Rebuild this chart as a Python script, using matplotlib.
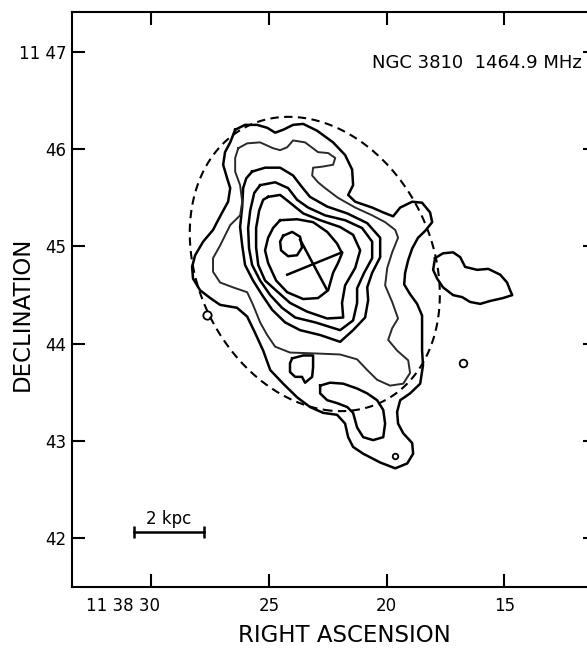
import numpy as np
import matplotlib.pyplot as plt
from matplotlib.transforms import ScaledTranslation

# positions: RA in seconds of 11h 38m, Dec in arcmin of +11 deg
contour1 = [(26.43, 46.20), (26.01, 46.25), (25.50, 46.25), (25.07, 46.22), (24.73, 46.17),
            (24.39, 46.20), (23.97, 46.25), (23.54, 46.26), (22.95, 46.19), (22.27, 46.07),
            (21.76, 45.94), (21.46, 45.79), (21.42, 45.63), (21.63, 45.53), (21.33, 45.46),
            (20.61, 45.40), (20.14, 45.35), (19.72, 45.31), (19.42, 45.40), (18.91, 45.46),
            (18.49, 45.45), (18.15, 45.35), (18.06, 45.25), (18.36, 45.16), (18.66, 45.09),
            (18.91, 44.98), (19.08, 44.86), (19.21, 44.73), (19.25, 44.61), (19.00, 44.51),
            (18.70, 44.41), (18.49, 44.29), (18.49, 44.12), (18.49, 43.93), (18.45, 43.78),
            (18.57, 43.59), (19.00, 43.49), (19.42, 43.42), (19.55, 43.30), (19.51, 43.18),
            (19.29, 43.08), (18.91, 42.98), (18.87, 42.87), (19.12, 42.77), (19.63, 42.72),
            (20.27, 42.78), (20.99, 42.87), (21.42, 42.94), (21.63, 43.04), (21.76, 43.18),
            (22.10, 43.27), (22.69, 43.29), (23.25, 43.35), (23.80, 43.45), (24.39, 43.59),
            (24.94, 43.73), (25.24, 43.93), (25.58, 44.11), (25.92, 44.28), (26.35, 44.37),
            (27.07, 44.40), (27.49, 44.47), (27.92, 44.55), (28.22, 44.67), (28.26, 44.79),
            (28.13, 44.91), (27.79, 45.05), (27.37, 45.17), (27.20, 45.25), (26.98, 45.35),
            (26.73, 45.46), (26.64, 45.60), (26.77, 45.70), (26.94, 45.84), (26.86, 45.97),
            (26.64, 46.07)]

contour2 = [(26.30, 46.01), (26.43, 45.91), (26.43, 45.77), (26.22, 45.63), (26.13, 45.46),
            (26.22, 45.32), (26.64, 45.22), (27.07, 45.01), (27.37, 44.88), (27.37, 44.74),
            (27.07, 44.63), (26.52, 44.58), (25.92, 44.53), (25.67, 44.40), (25.37, 44.22),
            (25.07, 44.09), (24.73, 43.97), (24.10, 43.91), (22.95, 43.90), (21.97, 43.89),
            (21.25, 43.84), (20.82, 43.73), (20.40, 43.63), (19.85, 43.57), (19.29, 43.59),
            (19.00, 43.70), (19.08, 43.83), (19.55, 43.93), (19.93, 44.04), (19.76, 44.16),
            (19.51, 44.26), (19.76, 44.43), (20.06, 44.60), (19.97, 44.78), (19.76, 44.94),
            (19.51, 45.09), (19.63, 45.17), (20.06, 45.25), (20.61, 45.32), (21.33, 45.40),
            (22.06, 45.50), (22.61, 45.60), (22.91, 45.66), (23.16, 45.73), (23.12, 45.81),
            (22.74, 45.82), (22.27, 45.84), (22.18, 45.91), (22.48, 45.96), (22.91, 45.97),
            (23.46, 46.07), (23.97, 46.09), (24.22, 46.02), (24.52, 45.99), (24.82, 46.01),
            (25.37, 46.07), (25.92, 46.06)]

contour3 = [(25.71, 45.77), (25.16, 45.81), (24.52, 45.81), (23.97, 45.73), (23.59, 45.61),
            (23.25, 45.51), (22.52, 45.41), (21.67, 45.34), (20.82, 45.24), (20.27, 45.09),
            (20.27, 44.89), (20.61, 44.73), (20.82, 44.58), (20.78, 44.45), (20.91, 44.27),
            (21.42, 44.14), (21.97, 44.02), (22.82, 44.09), (23.67, 44.14), (24.31, 44.22),
            (24.86, 44.35), (25.28, 44.50), (25.67, 44.65), (26.01, 44.81), (26.13, 45.01),
            (26.22, 45.20), (26.13, 45.41), (26.09, 45.60), (25.96, 45.70)]

contour4 = [(25.37, 45.63), (24.73, 45.66), (24.18, 45.60), (23.80, 45.48), (23.33, 45.40),
            (22.61, 45.32), (21.76, 45.27), (21.04, 45.19), (20.61, 45.05), (20.61, 44.88),
            (20.95, 44.73), (21.25, 44.57), (21.25, 44.42), (21.42, 44.24), (21.97, 44.14),
            (23.03, 44.22), (23.88, 44.27), (24.44, 44.37), (24.94, 44.50), (25.37, 44.65),
            (25.71, 44.81), (25.84, 44.98), (25.88, 45.19), (25.79, 45.37), (25.62, 45.55)]

contour5 = [(25.03, 45.51), (24.52, 45.53), (24.10, 45.45), (23.54, 45.34), (22.82, 45.27),
            (21.97, 45.20), (21.42, 45.12), (21.12, 44.96), (21.33, 44.78), (21.76, 44.60),
            (21.89, 44.42), (21.84, 44.27), (22.52, 44.26), (23.37, 44.33), (24.10, 44.42),
            (24.61, 44.53), (25.16, 44.65), (25.45, 44.81), (25.54, 44.99), (25.54, 45.19),
            (25.41, 45.37), (25.24, 45.48)]

contour6 = [(24.52, 45.27), (23.80, 45.28), (23.12, 45.25), (22.52, 45.15), (22.10, 45.03),
            (21.89, 44.93), (22.06, 44.83), (22.27, 44.73), (22.48, 44.55), (22.91, 44.47),
            (23.54, 44.46), (24.22, 44.53), (24.69, 44.65), (25.03, 44.83), (25.16, 44.96),
            (25.03, 45.09), (24.82, 45.19)]

contour7 = [(24.39, 45.11), (24.01, 45.15), (23.67, 45.10), (23.59, 44.99), (23.80, 44.91),
            (24.18, 44.90), (24.48, 44.96), (24.52, 45.05)]

island_a = [(24.01, 43.85), (23.54, 43.88), (23.12, 43.88), (23.12, 43.76), (23.16, 43.66),
            (23.46, 43.60), (23.59, 43.66), (23.88, 43.66), (24.10, 43.71), (24.10, 43.80)]

island_b = [(22.82, 43.57), (22.40, 43.60), (21.84, 43.59), (21.25, 43.54), (20.82, 43.49),
            (20.40, 43.42), (20.14, 43.32), (20.06, 43.18), (20.14, 43.04), (20.57, 43.01),
            (20.99, 43.04), (21.25, 43.14), (21.42, 43.29), (21.67, 43.35), (22.10, 43.39),
            (22.52, 43.42), (22.82, 43.49)]

west_blob = [(17.94, 44.88), (17.60, 44.93), (17.17, 44.94), (16.87, 44.89), (16.66, 44.79),
             (16.15, 44.76), (15.68, 44.77), (15.17, 44.71), (14.88, 44.63), (14.75, 44.55),
             (14.66, 44.50), (15.05, 44.47), (15.60, 44.44), (16.02, 44.41), (16.45, 44.43),
             (16.79, 44.48), (17.17, 44.50), (17.60, 44.58), (17.85, 44.67), (18.02, 44.76)]

# tiny closed contours: (ra, dec, marker size)
small_sources = [(16.75, 43.80, 5.5), (19.63, 42.85, 4.0), (27.62, 44.30, 6.0)]

# optical disk outline (dashed)
disk_outline = [(23.67, 46.33), (22.06, 46.22), (20.91, 46.06), (20.06, 45.86), (19.34, 45.63),
                (18.91, 45.48), (18.49, 45.32), (18.23, 45.14), (17.98, 44.95), (17.85, 44.76),
                (17.72, 44.55), (17.72, 44.31), (18.02, 44.07), (18.28, 43.86), (18.57, 43.76),
                (19.42, 43.52), (20.27, 43.37), (21.12, 43.32), (22.10, 43.32), (22.95, 43.35),
                (23.80, 43.42), (24.94, 43.59), (25.92, 43.76), (26.77, 43.97), (27.49, 44.21),
                (27.79, 44.33), (28.00, 44.57), (28.22, 44.81), (28.26, 45.01), (28.26, 45.22),
                (28.22, 45.43), (27.92, 45.66), (27.35, 45.92), (26.64, 46.12), (25.67, 46.30),
                (24.39, 46.33)]

# optical nucleus cross
cross_a = [(24.22, 44.71), (21.89, 44.94)]
cross_b = [(23.67, 45.07), (22.52, 44.55)]

# 2 kpc scale bar
scale_bar = [(30.72, 42.07), (27.75, 42.07)]

xtick_vals = [30, 25, 20, 15]
xtick_labels = ['11 38 30', '25', '20', '15']
ytick_vals = [47, 46, 45, 44, 43, 42]
ytick_labels = ['11 47', '46', '45', '44', '43', '42']

plt.rcParams['font.family'] = 'DejaVu Sans'

fig = plt.figure(figsize=(5.87, 6.49), dpi=100)
ax = fig.add_axes([0.1227, 0.0955, 0.8927, 0.886])
ax.set_xlim(33.36, 11.10)
ax.set_ylim(41.50, 47.41)


def draw_loop(pts, lw=1.8, color='black'):
    a = np.array(pts + [pts[0]])
    ax.plot(a[:, 0], a[:, 1], color=color, lw=lw, solid_joinstyle='round')


for c in [contour1, contour3, contour4, contour5, contour6, contour7,
          island_a, island_b, west_blob]:
    draw_loop(c)
draw_loop(contour2, lw=1.4, color='#2a2a2a')

for ra, dec, ms in small_sources:
    ax.plot(ra, dec, marker='o', ms=ms, mfc='none', mec='black', mew=1.3)

for seg in [cross_a, cross_b]:
    s = np.array(seg)
    ax.plot(s[:, 0], s[:, 1], color='black', lw=1.8)

# smooth the dashed outline: least-squares ellipse through the read points
e = np.array(disk_outline)
ex = -(e[:, 0] - 22.5) * 14.69
ey = (e[:, 1] - 44.8) * 60.0
M = np.column_stack([ex * ex, ex * ey, ey * ey, ex, ey])
coef = np.linalg.lstsq(M, np.ones(len(ex)), rcond=None)[0]
gra, gdec = np.meshgrid(np.linspace(29.5, 16.5, 500), np.linspace(42.8, 46.8, 500))
gx = -(gra - 22.5) * 14.69
gy = (gdec - 44.8) * 60.0
F = coef[0] * gx * gx + coef[1] * gx * gy + coef[2] * gy * gy + coef[3] * gx + coef[4] * gy
cs = ax.contour(gra, gdec, F, levels=[1.0], colors='black', linewidths=1.5)
cs.set_linestyle((0, (4.0, 2.6)))

sb = np.array(scale_bar)
ax.plot(sb[:, 0], sb[:, 1], color='black', lw=1.8, marker='|', ms=8, mew=1.8)
ax.text(29.25, 42.20, '2 kpc', ha='center', va='center', fontsize=12)

ax.text(20.61, 46.89, 'NGC 3810  1464.9 MHz', ha='left', va='center', fontsize=13)

ax.set_xticks(xtick_vals)
ax.set_xticklabels(xtick_labels)
ax.set_yticks(ytick_vals)
ax.set_yticklabels(ytick_labels)
ax.tick_params(direction='in', length=9.5, width=1.5, top=True, right=True,
               labelsize=12, pad=7)
ax.tick_params(axis='y', pad=4)
first = ax.get_xticklabels()[0]
first.set_horizontalalignment('right')
first.set_transform(first.get_transform() + ScaledTranslation(0.085, 0, fig.dpi_scale_trans))

for sp in ax.spines.values():
    sp.set_linewidth(1.5)

ax.set_xlabel('RIGHT ASCENSION', fontsize=16.5)
ax.set_ylabel('DECLINATION', fontsize=16.5)
ax.xaxis.set_label_coords(0.52, -0.085)
ax.xaxis.label.set_va('center')
ax.yaxis.set_label_coords(-0.095, 0.475)
ax.yaxis.label.set_va('center')

fig.savefig('out.png', dpi=100)
